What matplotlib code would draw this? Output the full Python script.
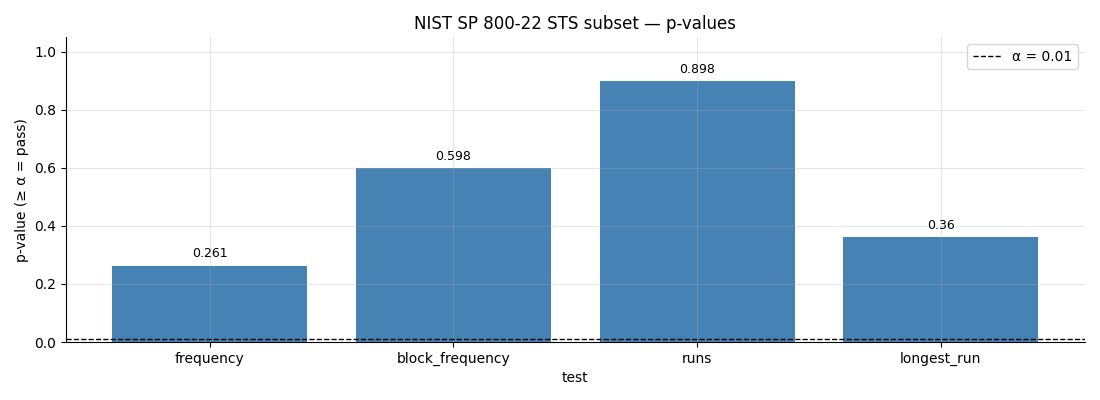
import matplotlib
matplotlib.use('Agg')
import matplotlib.pyplot as plt

# DATA
tests = ['frequency', 'block_frequency', 'runs', 'longest_run']
pvalues = [0.261, 0.598, 0.898, 0.36]
alpha = 0.01

fig, ax = plt.subplots(figsize=(11, 4), dpi=100)
bars = ax.bar(tests, pvalues, color='steelblue', zorder=2)
ax.grid(True, alpha=0.3, zorder=3)
ax.set_axisbelow(False)

for b, v in zip(bars, pvalues):
    ax.text(b.get_x() + b.get_width() / 2, v + 0.02, '%g' % v,
            ha='center', va='bottom', fontsize=9)

ax.axhline(alpha, color='black', linestyle='--', linewidth=1, label='α = 0.01', zorder=4)
ax.set_ylim(0, 1.05)
ax.set_title('NIST SP 800-22 STS subset — p-values')
ax.set_xlabel('test')
ax.set_ylabel('p-value (≥ α = pass)')
ax.spines['top'].set_visible(False)
ax.spines['right'].set_visible(False)
ax.legend(loc='upper right')

fig.subplots_adjust(left=0.06, right=0.986, top=0.907, bottom=0.145)
fig.savefig('out.png')
